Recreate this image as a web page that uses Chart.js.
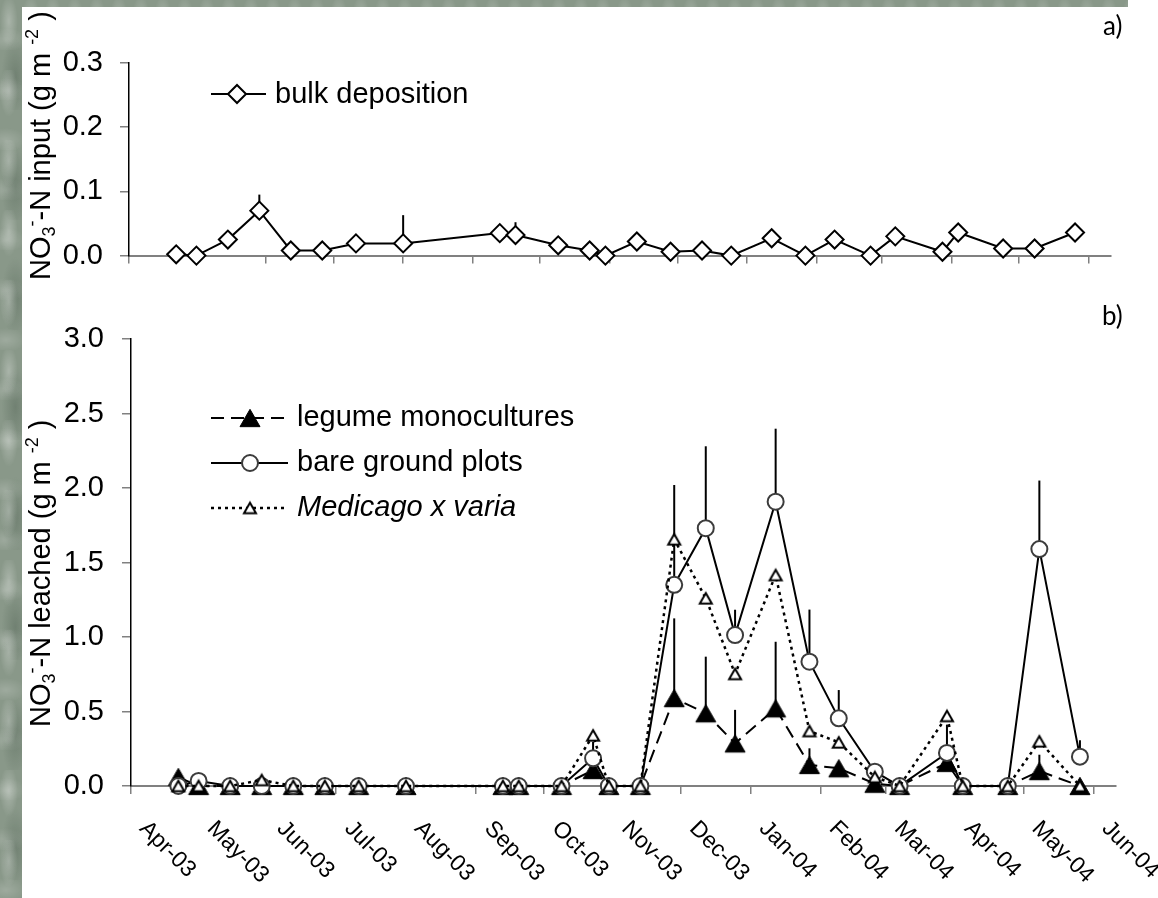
<!DOCTYPE html>
<html>
<head>
<meta charset="utf-8">
<script src="https://cdn.jsdelivr.net/npm/chart.js@4.4.1/dist/chart.umd.min.js"></script>
<style>
html, body { margin: 0; padding: 0; background: #fff; }
#wrap { position: relative; width: 1158px; height: 898px; overflow: hidden; background: #fff; }
canvas { position: absolute; left: 0; }
#cTop { top: 0; }
#cBot { top: 290px; }
.tex {
  position: absolute;
  background-color: #899889;
  background-image:
    radial-gradient(ellipse 9px 26px at 40% 30%, rgba(255,255,255,0.28), rgba(255,255,255,0) 100%),
    radial-gradient(ellipse 14px 40px at 70% 70%, rgba(40,60,45,0.25), rgba(40,60,45,0) 100%),
    radial-gradient(ellipse 20px 12px at 20% 80%, rgba(255,255,255,0.18), rgba(255,255,255,0) 100%);
  background-size: 22px 70px, 22px 110px, 30px 50px;
}
</style>
</head>
<body>
<div id="wrap">
  <div class="tex" style="left:0;top:0;width:22px;height:898px"></div>
  <div class="tex" style="left:0;top:0;width:1128px;height:7px"></div>
  <canvas id="cTop" width="1158" height="290"></canvas>
  <canvas id="cBot" width="1158" height="608"></canvas>
</div>
<script>
const FONT = '"Liberation Sans", Arial, Helvetica, sans-serif';

// sampling dates (shared by both panels)
const sampleDates = ['2003-04-22', '2003-05-01', '2003-05-15', '2003-05-29', '2003-06-12', '2003-06-26',
  '2003-07-11', '2003-08-01', '2003-09-13', '2003-09-20', '2003-10-09', '2003-10-23', '2003-10-30',
  '2003-11-13', '2003-11-28', '2003-12-12', '2003-12-25', '2004-01-12', '2004-01-27', '2004-02-09',
  '2004-02-25', '2004-03-07', '2004-03-28', '2004-04-04', '2004-04-24', '2004-05-08', '2004-05-26'];

const monthTicks = ['2003-04-01', '2003-05-01', '2003-06-01', '2003-07-01', '2003-08-01', '2003-09-01',
  '2003-10-01', '2003-11-01', '2003-12-01', '2004-01-01', '2004-02-01', '2004-03-01', '2004-04-01',
  '2004-05-01', '2004-06-01'];
const monthLabels = ['Apr-03', 'May-03', 'Jun-03', 'Jul-03', 'Aug-03', 'Sep-03', 'Oct-03', 'Nov-03',
  'Dec-03', 'Jan-04', 'Feb-04', 'Mar-04', 'Apr-04', 'May-04', 'Jun-04'];

// a) bulk deposition input
const bulkDeposition = [0.002, 0.0, 0.025, 0.070, 0.008, 0.008, 0.019, 0.019, 0.035, 0.032, 0.016, 0.008, 0.0,
  0.022, 0.006, 0.008, 0.0, 0.027, 0.0, 0.025, 0.0, 0.030, 0.006, 0.036, 0.011, 0.011, 0.036];
const bulkErr = [0, 0, 0, 0.025, 0, 0, 0, 0.044, 0, 0.020, 0, 0, 0, 0, 0, 0, 0, 0, 0, 0, 0, 0, 0, 0, 0, 0, 0];

// b) leached
const legume = [0.06, 0, 0, 0, 0, 0, 0, 0, 0, 0, 0, 0.107, 0, 0, 0.59, 0.488, 0.286, 0.521, 0.141, 0.119,
  0.015, 0, 0.155, 0, 0, 0.10, 0];
const legumeErr = [0, 0, 0, 0, 0, 0, 0, 0, 0, 0, 0, 0, 0, 0, 0.535, 0.38, 0.225, 0.447, 0.112, 0, 0, 0, 0, 0, 0,
  0.11, 0];
const bareGround = [0, 0.034, 0, 0, 0, 0, 0, 0, 0, 0, 0, 0.186, 0, 0, 1.35, 1.73, 1.013, 1.908, 0.834, 0.454,
  0.096, 0, 0.222, 0, 0, 1.59, 0.197];
const bareErr = [0, 0, 0, 0, 0, 0, 0, 0, 0, 0, 0, 0.11, 0, 0, 0.67, 0.55, 0.17, 0.49, 0.35, 0.19, 0, 0, 0.19, 0, 0,
  0.46, 0.11];
const medicago = [0, 0, 0, 0.04, 0, 0, 0, 0, 0, 0, 0, 0.34, 0, 0, 1.656, 1.26, 0.752, 1.416, 0.369, 0.293, 0.06,
  0, 0.47, 0, 0, 0.30, 0];

const t0 = Date.UTC(2003, 3, 1);
function dayOf(s) {
  const p = s.split('-').map(Number);
  return (Date.UTC(p[0], p[1] - 1, p[2]) - t0) / 86400000;
}
const sampleDays = sampleDates.map(dayOf);
const tickDays = monthTicks.map(dayOf);
const xMax = dayOf('2004-06-11');

function pts(vals) {
  return vals.map((v, i) => ({ x: sampleDays[i], y: v }));
}

// triangle markers centred on their box (like the original)
function triMarker(side, fill, stroke, lw) {
  const h = side * Math.sqrt(3) / 2;
  const c = document.createElement('canvas');
  c.width = Math.ceil(side + 2 * lw + 2);
  c.height = Math.ceil(h + 2 * lw + 2);
  const g = c.getContext('2d');
  const ox = c.width / 2, oy = (c.height - h) / 2;
  g.beginPath();
  g.moveTo(ox, oy);
  g.lineTo(ox + side / 2, oy + h);
  g.lineTo(ox - side / 2, oy + h);
  g.closePath();
  g.fillStyle = fill;
  g.fill();
  if (lw) { g.lineWidth = lw; g.strokeStyle = stroke; g.stroke(); }
  return c;
}
const blackTri = triMarker(20, '#000', '#000', 1);
const openTri = triMarker(12, '#fff', '#000', 2);

function xAxis(h) {
  return {
    type: 'linear', min: 0, max: xMax,
    afterBuildTicks(s) { s.ticks = tickDays.map(v => ({ value: v })); },
    afterFit(s) { s.height = h; },
    ticks: { display: false },
    grid: { drawOnChartArea: false, drawTicks: true, tickLength: 8, color: '#808080', lineWidth: 1.5 },
    border: { display: true, color: '#808080', width: 2 }
  };
}
function yAxis(max, step, w, pad) {
  return {
    min: 0, max: max,
    afterFit(s) { s.width = w; },
    ticks: { stepSize: step, callback: v => Number(v).toFixed(1), font: { family: FONT, size: 29 }, color: '#000', padding: pad },
    grid: { drawOnChartArea: false, tickLength: 9, color: '#808080', lineWidth: 1.5 },
    border: { color: '#000', width: 1.5 }
  };
}

const errorBars = {
  id: 'errorBars',
  beforeDatasetsDraw(chart) {
    const ctx = chart.ctx, ys = chart.scales.y;
    chart.data.datasets.forEach((ds, di) => {
      if (!ds.errUp) return;
      const meta = chart.getDatasetMeta(di);
      ctx.save();
      ctx.strokeStyle = '#000';
      ctx.lineWidth = 2;
      meta.data.forEach((pt, i) => {
        const e = ds.errUp[i];
        if (!e) return;
        ctx.beginPath();
        ctx.moveTo(pt.x, pt.y);
        ctx.lineTo(pt.x, ys.getPixelForValue(ds.data[i].y + e));
        ctx.stroke();
      });
      ctx.restore();
    });
  }
};

function drawRich(ctx, parts, size) {
  let cx = 0;
  parts.forEach(p => {
    const small = p.sub || p.sup;
    const s = small ? size * 0.62 : size;
    ctx.font = s + 'px ' + FONT;
    const dy = p.sub ? size * 0.16 : (p.sup ? -size * 0.42 : 0);
    ctx.fillText(p.t, cx, dy);
    cx += ctx.measureText(p.t).width;
  });
}
function yTitle(ctx, x, y, word) {
  ctx.save();
  ctx.translate(x, y);
  ctx.rotate(-Math.PI / 2);
  ctx.fillStyle = '#000';
  ctx.textAlign = 'left';
  ctx.textBaseline = 'alphabetic';
  drawRich(ctx, [{ t: 'NO' }, { t: '3', sub: 1 }, { t: '-', sup: 1 }, { t: '-N ' + word + ' (g m ' }, { t: '-2', sup: 1 }, { t: ' )' }], 29);
  ctx.restore();
}
function legendLine(ctx, y, x1, x2, dash, lw) {
  ctx.save();
  ctx.strokeStyle = '#000';
  ctx.lineWidth = lw;
  ctx.setLineDash(dash);
  ctx.beginPath();
  ctx.moveTo(x1, y);
  ctx.lineTo(x2, y);
  ctx.stroke();
  ctx.restore();
}
function label(ctx, text, x, y, font) {
  ctx.save();
  ctx.font = font;
  ctx.fillStyle = '#000';
  ctx.textAlign = 'left';
  ctx.textBaseline = 'middle';
  ctx.fillText(text, x, y);
  ctx.restore();
}

const topDecor = {
  id: 'topDecor',
  afterDraw(chart) {
    const ctx = chart.ctx;
    yTitle(ctx, 50, 280, 'input');
    // legend
    legendLine(ctx, 94, 211, 266, [], 2);
    ctx.save();
    ctx.beginPath();
    ctx.moveTo(237 - 9, 94); ctx.lineTo(237, 85); ctx.lineTo(237 + 9, 94); ctx.lineTo(237, 103); ctx.closePath();
    ctx.fillStyle = '#fff'; ctx.fill();
    ctx.lineWidth = 2; ctx.strokeStyle = '#000'; ctx.stroke();
    ctx.restore();
    label(ctx, 'bulk deposition', 275, 95, '29px ' + FONT);
    ctx.save();
    ctx.font = '26px Lato, "Open Sans", sans-serif';
    ctx.fillStyle = '#000';
    ctx.fillText('a)', 1103, 35);
    ctx.restore();
  }
};

const botDecor = {
  id: 'botDecor',
  afterDraw(chart) {
    const ctx = chart.ctx;
    const off = 290;
    yTitle(ctx, 50, 727 - off, 'leached');
    // legend
    legendLine(ctx, 418 - off, 211, 288, [13, 7], 2);
    ctx.drawImage(blackTri, 250 - blackTri.width / 2, 418 - off - blackTri.height / 2);
    label(ctx, 'legume monocultures', 297, 418 - off, '29px ' + FONT);

    legendLine(ctx, 463 - off, 211, 288, [], 2);
    ctx.save();
    ctx.beginPath();
    ctx.arc(250, 463 - off, 8, 0, Math.PI * 2);
    ctx.fillStyle = '#fff'; ctx.fill();
    ctx.lineWidth = 2; ctx.strokeStyle = '#3c3c3c'; ctx.stroke();
    ctx.restore();
    label(ctx, 'bare ground plots', 297, 463 - off, '29px ' + FONT);

    legendLine(ctx, 508 - off, 211, 288, [3, 4], 2.5);
    ctx.drawImage(openTri, 250 - openTri.width / 2, 508 - off - openTri.height / 2);
    label(ctx, 'Medicago x varia', 297, 508 - off, 'italic 29px ' + FONT);

    ctx.save();
    ctx.font = '26px Lato, "Open Sans", sans-serif';
    ctx.fillStyle = '#000';
    ctx.fillText('b)', 1102, 325 - off);
    ctx.restore();

    // rotated month labels under the x axis
    const xs = chart.scales.x;
    ctx.save();
    ctx.font = '23px ' + FONT;
    ctx.fillStyle = '#000';
    ctx.textAlign = 'left';
    ctx.textBaseline = 'middle';
    xs.ticks.forEach((t, i) => {
      const px = xs.getPixelForValue(t.value);
      ctx.save();
      ctx.translate(px + 12, xs.top + 39);
      ctx.rotate(Math.PI / 4);
      ctx.fillText(monthLabels[i], 0, 0);
      ctx.restore();
    });
    ctx.restore();
  }
};

const common = {
  responsive: false,
  animation: false,
  devicePixelRatio: 1,
  events: [],
  plugins: { legend: { display: false }, tooltip: { enabled: false } },
  elements: { line: { tension: 0 } }
};

new Chart(document.getElementById('cTop'), {
  type: 'line',
  data: {
    datasets: [{
      label: 'bulk deposition',
      data: pts(bulkDeposition),
      errUp: bulkErr,
      borderColor: '#000',
      borderWidth: 2,
      pointStyle: 'rectRot',
      pointRadius: 9,
      pointBorderWidth: 2,
      pointBorderColor: '#000',
      pointBackgroundColor: '#fff',
      clip: false
    }]
  },
  options: Object.assign({}, common, {
    layout: { padding: { left: 0, right: 47, top: 63, bottom: 0 } },
    scales: { x: xAxis(15), y: yAxis(0.3, 0.1, 129, 17) }
  }),
  plugins: [errorBars, topDecor]
});

new Chart(document.getElementById('cBot'), {
  type: 'line',
  data: {
    datasets: [{
      label: 'Medicago x varia',
      data: pts(medicago),
      borderColor: '#000',
      borderWidth: 2.5,
      borderDash: [3, 4],
      pointStyle: openTri,
      pointRadius: 6,
      order: 0,
      clip: false
    }, {
      label: 'bare ground plots',
      data: pts(bareGround),
      errUp: bareErr,
      borderColor: '#000',
      borderWidth: 2,
      pointStyle: 'circle',
      pointRadius: 8,
      pointBorderWidth: 2,
      pointBorderColor: '#3c3c3c',
      pointBackgroundColor: '#fff',
      order: 1,
      clip: false
    }, {
      label: 'legume monocultures',
      data: pts(legume),
      errUp: legumeErr,
      borderColor: '#000',
      borderWidth: 2,
      borderDash: [13, 7],
      pointStyle: blackTri,
      pointRadius: 10,
      order: 2,
      clip: false
    }]
  },
  options: Object.assign({}, common, {
    layout: { padding: { left: 0, right: 42, top: 49, bottom: 0 } },
    scales: { x: xAxis(112), y: yAxis(3, 0.5, 131, 18) }
  }),
  plugins: [errorBars, botDecor]
});
</script>
</body>
</html>
